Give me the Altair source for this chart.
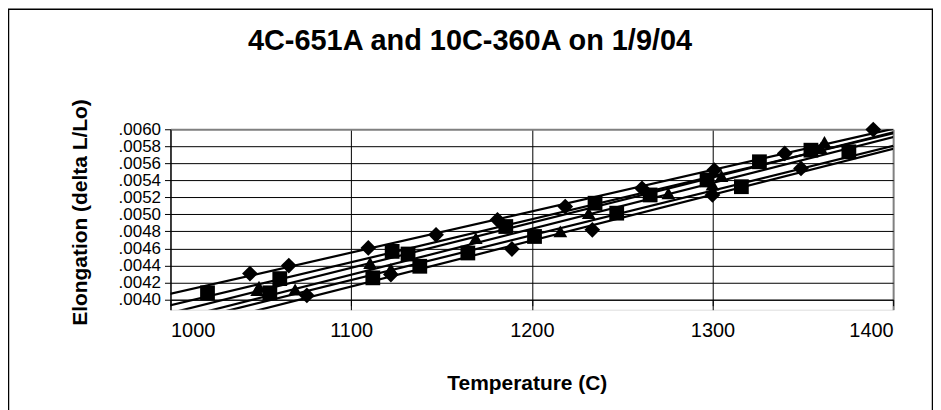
import altair as alt
import pandas as pd

# ---- data ----
s1_T = [1044, 1065.5, 1109.5, 1147, 1181, 1218.5, 1261, 1301, 1340, 1389]
s1_v = [0.004304, 0.004398, 0.004605, 0.00476, 0.004936, 0.005091, 0.005306, 0.00552, 0.005716, 0.005996]

s2_T = [1020.5, 1060.5, 1122.7, 1131.5, 1185.6, 1235, 1265.5, 1297, 1326, 1354.5]
s2_v = [0.004078, 0.004245, 0.004565, 0.004534, 0.004857, 0.005131, 0.005228, 0.005404, 0.005618, 0.005754]

s3_T = [1049, 1110.5, 1169, 1231.5, 1275.6, 1305, 1362]
s3_v = [0.00415, 0.004429, 0.004721, 0.005014, 0.005248, 0.00545, 0.00585]

s4_T = [1075.5, 1122, 1189, 1233.5, 1300, 1349]
s4_v = [0.004047, 0.004292, 0.004593, 0.004819, 0.005228, 0.00554]

s5_T = [1055, 1112, 1138, 1164.6, 1201.5, 1247, 1316, 1375.5]
s5_v = [0.004078, 0.004254, 0.00439, 0.004546, 0.00474, 0.005014, 0.005325, 0.005735]

s6_T = [1048, 1069, 1122, 1215.8, 1300, 1360]
s6_v = [0.00411, 0.004117, 0.00436, 0.0048, 0.00535, 0.00578]

series_names = ["S1", "S2", "S3", "S4", "S5", "S6"]
series_markers = ["diamond", "square", "triangle", "diamond", "square", "triangle"]
series_T = [s1_T, s2_T, s3_T, s4_T, s5_T, s6_T]
series_v = [s1_v, s2_v, s3_v, s4_v, s5_v, s6_v]

x_ticks = [1000, 1100, 1200, 1300, 1400]
y_ticks = [0.0040, 0.0042, 0.0044, 0.0046, 0.0048, 0.0050, 0.0052, 0.0054, 0.0056, 0.0058, 0.0060]
chart_title = "4C-651A and 10C-360A on 1/9/04"

rows = []
for name, mk, Ts, vs in zip(series_names, series_markers, series_T, series_v):
    for t, v in zip(Ts, vs):
        rows.append({"series": name, "marker": mk, "T": t, "v": v})
df = pd.DataFrame(rows)

FONT = "Liberation Sans"
W, H = 725, 181

x_enc = alt.X("T:Q", scale=alt.Scale(domain=[1000, 1400], nice=False, zero=False),
              axis=alt.Axis(values=x_ticks, tickCount=len(x_ticks), title="Temperature (C)", format="d",
                            offset=-10, tickSize=6, labelPadding=15, labelOverlap=False,
                            labelFontSize=20, labelFont=FONT, labelColor="black",
                            titleFontSize=21, titleFont=FONT, titleFontWeight="bold",
                            titleColor="black", titleX=357.5, titleY=84,
                            titleAlign="center", titleBaseline="middle",
                            domainColor="black", tickColor="black",
                            gridColor={"condition": {"test": "datum.value >= 1400", "value": "#808080"}, "value": "black"},
                            gridWidth={"condition": {"test": "datum.value >= 1400", "value": 2}, "value": 1},
                            grid=True))
y_enc = alt.Y("v:Q", scale=alt.Scale(domain=[0.00388, 0.0060], nice=False, zero=False),
              axis=alt.Axis(values=y_ticks, tickCount=len(y_ticks), title="Elongation (delta L/Lo)",
                            labelExpr="substring(format(datum.value, '.4f'), 1)",
                            tickSize=6, labelPadding=4, labelOverlap=False,
                            labelFontSize=17, labelFont=FONT, labelColor="black",
                            titleFontSize=21, titleFont=FONT, titleFontWeight="bold",
                            titleColor="black", titleX=-90, titleY=83,
                            titleAngle=-90, titleAlign="center", titleBaseline="middle",
                            domainColor="black", tickColor="black",
                            gridColor={"condition": {"test": "datum.value >= 0.00599", "value": "#808080"}, "value": "black"},
                            gridWidth={"condition": {"test": "datum.value >= 0.00599", "value": 2}, "value": 1},
                            grid=True))

base = alt.Chart(df)

lines = base.transform_regression(
    "T", "v", groupby=["series"], extent=[990, 1405]
).mark_line(color="black", strokeWidth=2.2, clip=True).encode(
    x=x_enc, y=y_enc, detail="series:N"
)

points = base.mark_point(filled=True, color="black", opacity=1, strokeWidth=0).encode(
    x=alt.X("T:Q"), y=alt.Y("v:Q"),
    shape=alt.Shape("marker:N", scale=alt.Scale(domain=["diamond", "square", "triangle"],
                                                 range=["diamond", "square", "triangle-up"]), legend=None),
    size=alt.Size("marker:N", scale=alt.Scale(domain=["diamond", "square", "triangle"],
                                               range=[250, 190, 230]), legend=None),
)

one = pd.DataFrame({"label": [chart_title]})

frame = alt.Chart(one).mark_rect(
    fill=None, fillOpacity=0, stroke="black", strokeWidth=1.5
).encode(
    x=alt.value(-162.5), x2=alt.value(764.5), y=alt.value(-120.5), y2=alt.value(400)
)

title = alt.Chart(one).mark_text(
    font=FONT, fontSize=29, fontWeight="bold", color="black",
    align="center", baseline="alphabetic"
).encode(text="label:N", x=alt.value(300.5), y=alt.value(-80))

chart = alt.layer(frame, lines, points, title).properties(
    width=W, height=H,
    autosize=alt.AutoSizeParams(type="none"),
    padding={"left": 163, "top": 121, "right": 40, "bottom": 100},
).configure_view(stroke=None).configure(background="white")

chart.save("out.html", embed_options={"renderer": "svg", "actions": False})
